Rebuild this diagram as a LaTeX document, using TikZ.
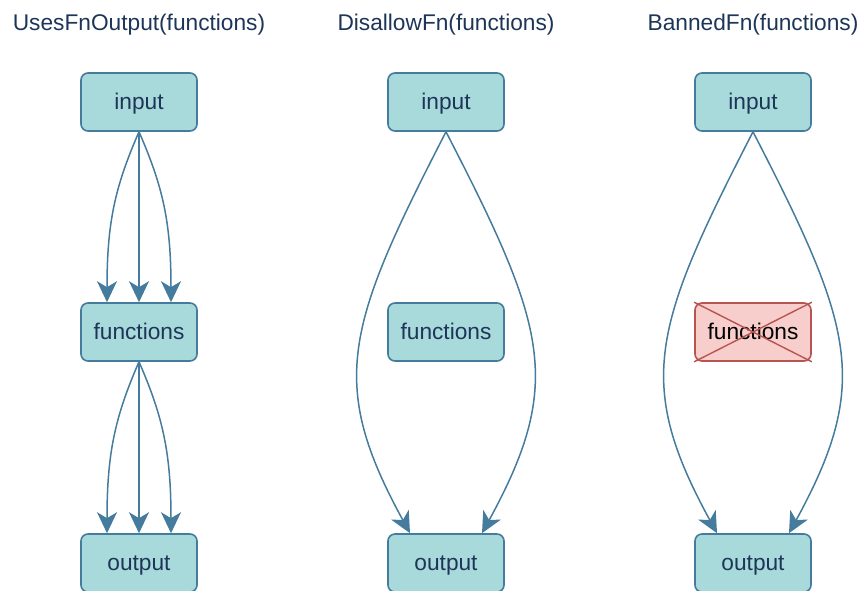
\documentclass[tikz,border=0pt]{standalone}
\usepackage{fontspec}
\setmainfont{Liberation Sans}
\usetikzlibrary{arrows.meta}
\definecolor{boxfill}{HTML}{A8DADC}
\definecolor{boxline}{HTML}{457B9D}
\definecolor{navy}{HTML}{1D3557}
\definecolor{banfill}{HTML}{F8CECC}
\definecolor{banline}{HTML}{B85450}
\tikzset{
  stepbox/.style={draw=boxline, fill=boxfill, line width=1.6pt, rounded corners=7pt,
    minimum width=116pt, minimum height=58pt, inner sep=0pt, text=navy,
    font=\fontsize{22.7}{27}\selectfont, text depth=0pt, text height=14pt},
  banbox/.style={stepbox, draw=banline, fill=banfill, text=black},
  title/.style={text=navy, font=\fontsize{22.7}{27}\selectfont, anchor=base, inner sep=0pt},
  flow/.style={draw=boxline, line width=1.5pt,
    -{Stealth[length=21pt, width=20pt, inset=6pt]}},
}
\begin{document}
\begin{tikzpicture}[x=1pt, y=-1pt]
\useasboundingbox (0,0) rectangle (862,590);

% column titles
\node[title] (t1) at (139,30) {UsesFnOutput(functions)};
\node[title] (t2) at (446,30) {DisallowFn(functions)};
\node[title] (t3) at (753,30) {BannedFn(functions)};

% first column: data flows through the functions
\node[stepbox] (in1)  at (139,102) {input};
\node[stepbox] (fn1)  at (139,332) {functions};
\node[stepbox] (out1) at (139,563) {output};

\draw[flow] (in1.south) .. controls +(-24,55) and +(0,-80) .. ([xshift=-32pt]fn1.north);
\draw[flow] (in1.south) -- (fn1.north);
\draw[flow] (in1.south) .. controls +(24,55) and +(0,-80) .. ([xshift=32pt]fn1.north);

\draw[flow] (fn1.south) .. controls +(-24,55) and +(0,-80) .. ([xshift=-32pt]out1.north);
\draw[flow] (fn1.south) -- (out1.north);
\draw[flow] (fn1.south) .. controls +(24,55) and +(0,-80) .. ([xshift=32pt]out1.north);

% second column: data bypasses the functions
\node[stepbox] (in2)  at (446,102) {input};
\node[stepbox] (fn2)  at (446,332) {functions};
\node[stepbox] (out2) at (446,563) {output};

\draw[flow] (in2.south) .. controls +(-101,196) and +(-82,-150) .. ([xshift=-36pt]out2.north);
\draw[flow] (in2.south) .. controls +(101,196) and +(82,-150) .. ([xshift=36pt]out2.north);

% third column: the functions are banned
\node[stepbox] (in3)  at (753,102) {input};
\node[banbox]  (fn3)  at (753,332) {functions};
\node[stepbox] (out3) at (753,563) {output};
\draw[banline, line width=1.4pt] (fn3.north west) -- (fn3.south east)
  (fn3.south west) -- (fn3.north east);

\draw[flow] (in3.south) .. controls +(-101,196) and +(-82,-150) .. ([xshift=-36pt]out3.north);
\draw[flow] (in3.south) .. controls +(101,196) and +(82,-150) .. ([xshift=36pt]out3.north);
\end{tikzpicture}
\end{document}
